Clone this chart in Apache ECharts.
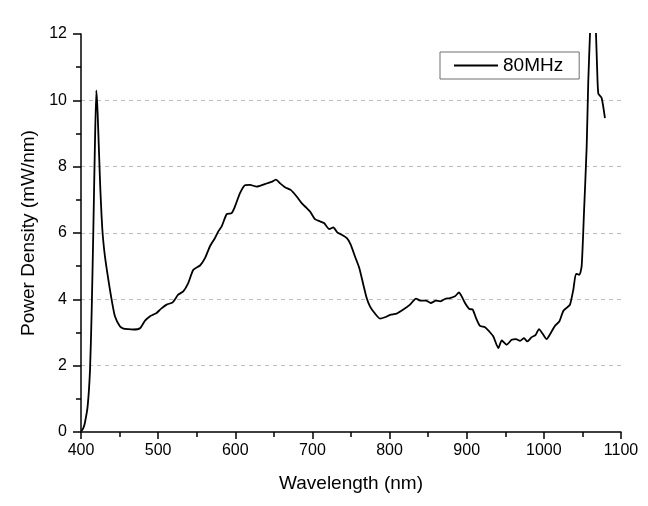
<!DOCTYPE html>
<html>
<head>
<meta charset="utf-8">
<script src="https://cdn.jsdelivr.net/npm/echarts@6/dist/echarts.min.js"></script>
<style>
html,body{margin:0;padding:0;background:#fff;}
#c{width:648px;height:506px;}
</style>
</head>
<body>
<div id="c"></div>
<script>
const seriesName = '80MHz';
const wavelength = [400.5,403,405,408.6,411.7,413.8,416,418,419.9,421.6,424.6,427.7,431,435.4,439.7,444,450.6,455,461.3,468,476.5,483,490,493.7,498,504,511,518.8,526,532.6,539,545.6,554.3,560.7,567.2,573.7,578,582.4,588.9,595.3,599.6,606.1,612.6,619,627.7,636.3,641.5,647.1,652.8,658,664.4,671.8,679.6,686,692.6,696.9,703.3,709.8,715,721.9,727,732.2,737.9,744.4,749.6,755.2,760.8,766,770.3,774.6,779.8,787.6,794,800.6,809.2,817.8,826.5,834.3,840.3,847.2,853.3,860.2,865.4,871.9,878.3,884.8,890,893.5,897.8,903.4,907.8,912,917.2,923.7,929.3,934.5,941,945.4,951.8,958.3,963.9,969.1,974.3,978.5,984.2,989.4,993.7,998.5,1003.6,1008.8,1014.4,1020,1025.2,1030.4,1033.9,1038.2,1041.7,1046,1049,1052,1055.5,1057.6,1059.8,1062,1065,1067.6,1069,1070.6,1074.9,1079.2];
const power = [0.03,0.12,0.27,0.77,1.88,3.6,6.1,8.6,10.3,9.6,7.6,6.1,5.3,4.6,3.99,3.49,3.18,3.12,3.1,3.09,3.13,3.36,3.5,3.54,3.59,3.72,3.84,3.91,4.14,4.24,4.49,4.89,5.02,5.24,5.6,5.85,6.05,6.2,6.57,6.6,6.8,7.2,7.44,7.45,7.4,7.46,7.5,7.54,7.61,7.5,7.38,7.3,7.1,6.9,6.75,6.65,6.42,6.35,6.3,6.12,6.17,6.02,5.95,5.85,5.65,5.29,4.94,4.44,4.04,3.79,3.61,3.42,3.46,3.53,3.57,3.69,3.84,4.02,3.96,3.96,3.89,3.96,3.94,4.01,4.04,4.09,4.21,4.09,3.89,3.71,3.69,3.44,3.2,3.16,3.03,2.88,2.53,2.76,2.63,2.78,2.8,2.75,2.83,2.73,2.86,2.93,3.1,2.96,2.8,2.98,3.2,3.33,3.65,3.76,3.84,4.29,4.77,4.74,5.0,6.6,8.6,10.6,12.0,13.5,13.5,12.0,11.0,10.2,10.07,9.46];
const xTitle = 'Wavelength (nm)';
const yTitle = 'Power Density (mW/nm)';

const font = "'Liberation Sans', Arial, sans-serif";
const chart = echarts.init(document.getElementById('c'), null, {renderer: 'canvas'});
chart.setOption({
  backgroundColor: '#fff',
  animation: false,
  grid: {left: 81, right: 27, top: 34, bottom: 74, containLabel: false},
  legend: {
    left: 440, top: 52,
    padding: [4, 16, 4, 14],
    borderColor: '#6e6e6e', borderWidth: 1,
    itemWidth: 44, itemHeight: 2,
    icon: 'rect',
    itemStyle: {color: '#000'},
    textStyle: {fontFamily: font, fontSize: 19, color: '#000'},
    data: [seriesName]
  },
  xAxis: {
    type: 'value', min: 400, max: 1100, interval: 100,
    name: xTitle, nameLocation: 'middle', nameGap: 42,
    nameTextStyle: {fontFamily: font, fontSize: 19, color: '#000'},
    axisLine: {show: true, onZero: false, lineStyle: {color: '#000', width: 1.5}},
    axisTick: {show: true, inside: false, length: 7, lineStyle: {color: '#000', width: 1.5}},
    minorTick: {show: true, splitNumber: 2, length: 5, lineStyle: {color: '#000', width: 1.5}},
    axisLabel: {fontFamily: font, fontSize: 16, color: '#000', margin: 11, formatter: v => String(v)},
    splitLine: {show: false}
  },
  yAxis: {
    type: 'value', min: 0, max: 12, interval: 2,
    name: yTitle, nameLocation: 'middle', nameGap: 42, nameRotate: 90,
    nameTextStyle: {fontFamily: font, fontSize: 19, color: '#000'},
    axisLine: {show: true, onZero: false, lineStyle: {color: '#000', width: 1.5}},
    axisTick: {show: true, inside: false, length: 8, lineStyle: {color: '#000', width: 1.5}},
    minorTick: {show: true, splitNumber: 2, length: 5, lineStyle: {color: '#000', width: 1.5}},
    axisLabel: {fontFamily: font, fontSize: 16, color: '#000', margin: 14, formatter: v => String(v)},
    splitLine: {show: true, showMinLine: false, showMaxLine: false,
      lineStyle: {color: '#bdbdbd', width: 1, type: [4, 4]}}
  },
  series: [{
    name: seriesName,
    type: 'line',
    data: wavelength.map((w, i) => [w, power[i]]),
    symbol: 'none', showSymbol: false,
    smooth: 0.2,
    clip: true,
    lineStyle: {color: '#000', width: 1.8},
    itemStyle: {color: '#000'}
  }]
});
</script>
</body>
</html>
